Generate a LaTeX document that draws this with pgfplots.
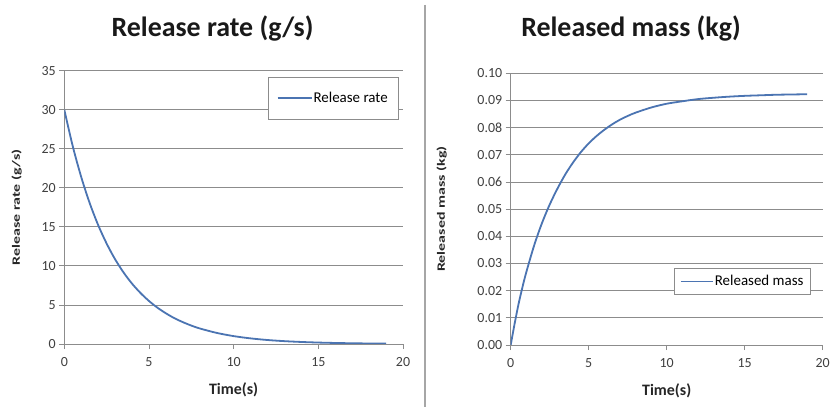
\documentclass[border=0pt]{standalone}
\usepackage{pgfplots}
\pgfplotsset{compat=1.18}
\usepackage{fontspec}
\setmainfont{Carlito}
\definecolor{curve}{HTML}{4B74B2}
\definecolor{gridc}{HTML}{8C8C8C}
\definecolor{tickc}{HTML}{404040}
\definecolor{sepc}{HTML}{A6A6A6}

\pgfplotstableread{
t r
0 30
0.5 25.32
1 21.38
1.5 18.04
2 15.23
2.5 12.86
3 10.85
3.5 9.16
4 7.73
4.5 6.53
5 5.51
5.5 4.65
6 3.93
6.5 3.31
7 2.80
7.5 2.36
8 1.99
9 1.42
10 1.01
11 0.72
12 0.51
13 0.365
14 0.26
15 0.185
16 0.132
17 0.094
18 0.067
19 0.048
}\ratetable

\pgfplotstableread{
t m
0 0
0.25 0.0078
0.5 0.0150
0.75 0.0212
1 0.0268
1.5 0.0366
2 0.0448
2.5 0.0517
3 0.0576
3.5 0.0628
4 0.0672
4.5 0.0710
5 0.0742
5.5 0.0769
6 0.0792
6.5 0.0812
7 0.0829
7.5 0.0843
8 0.0855
9 0.0874
10 0.0888
11 0.0897
12 0.0905
13 0.0910
14 0.0914
15 0.0917
16 0.0919
17 0.0921
18 0.0922
19 0.0923
}\masstable

\pgfplotsset{
  mystyle/.style={
    scale only axis,
    xmin=0, xmax=20,
    xtick={0,5,10,15,20},
    axis x line*=bottom, axis y line*=left,
    axis line style={-, gridc, line width=0.9bp},
    ymajorgrids,
    major grid style={gridc, line width=0.9bp},
    tick align=outside, major tick length=5bp,
    tick style={gridc, line width=0.9bp},
    ticklabel style={font=\fontsize{14}{16}\selectfont, text=tickc},
    xticklabel style={yshift=-5bp},
    /pgf/number format/assume math mode=true,
    xlabel={Time(s)},
    every axis x label/.style={at={(axis description cs:0.5,0)}, anchor=center, yshift=-46bp, font=\fontsize{16}{18}\selectfont\bfseries, text=black!85},
    legend cell align=left,
  }
}

\begin{document}
\begin{tikzpicture}
\useasboundingbox (0bp,0bp) rectangle (831bp,407bp);
\fill[white] (0bp,0bp) rectangle (831bp,407bp);
\draw[sepc, line width=2.5bp] (425bp,402bp) -- (425bp,0bp);
\node[anchor=base, font=\fontsize{28}{32}\selectfont\bfseries, text=black!90] at (212.5bp,370.3bp) {Release rate (g/s)};
\node[anchor=base, font=\fontsize{28}{32}\selectfont\bfseries, text=black!90] at (631bp,370.3bp) {Released mass (kg)};

\begin{axis}[mystyle,
  at={(64.3bp,63bp)}, anchor=south west,
  width=338.7bp, height=273.3bp,
  ymin=0, ymax=35, ytick={0,5,10,15,20,25,30,35},
  every axis y label/.style={at={(axis description cs:0,0.5)}, xshift=-47.6bp, rotate=90, anchor=center, font=\fontsize{16}{18}\selectfont\bfseries, text=black!85},
  ylabel={\scalebox{1}[0.7]{Release rate (g/s)}},
  legend image code/.code={\draw[#1, line width=1.8bp] (0bp,0bp) -- (34bp,0bp);},
  legend style={at={(0.985,0.977)}, anchor=north east, draw=gridc, fill=white,
    font=\fontsize{15}{17}\selectfont, inner xsep=9bp, inner ysep=13bp,
    nodes={inner xsep=1bp}},
]
\addplot[curve, line width=1.8bp, smooth] table[x=t, y=r] {\ratetable};
\addlegendentry{Release rate}
\end{axis}

\begin{axis}[mystyle,
  at={(510.7bp,62bp)}, anchor=south west,
  width=312bp, height=271.7bp,
  ymin=0, ymax=0.1, ytick={0,0.01,0.02,0.03,0.04,0.05,0.06,0.07,0.08,0.09,0.1},
  scaled y ticks=false,
  yticklabel style={/pgf/number format/.cd, fixed, fixed zerofill, precision=2},
  every axis y label/.style={at={(axis description cs:0,0.5)}, xshift=-69bp, rotate=90, anchor=center, font=\fontsize{16}{18}\selectfont\bfseries, text=black!85},
  ylabel={\scalebox{1}[0.7]{Released mass (kg)}},
  legend image code/.code={\draw[#1, line width=1.8bp] (0bp,0bp) -- (32bp,0bp);},
  legend style={at={(0.9615,0.2823)}, anchor=north east, draw=gridc, fill=white,
    font=\fontsize{15}{17}\selectfont, inner xsep=6bp, inner ysep=5bp,
    nodes={inner xsep=1bp}},
]
\addplot[curve, line width=1.8bp, smooth] table[x=t, y=m] {\masstable};
\addlegendentry{Released mass}
\end{axis}
\end{tikzpicture}
\end{document}
